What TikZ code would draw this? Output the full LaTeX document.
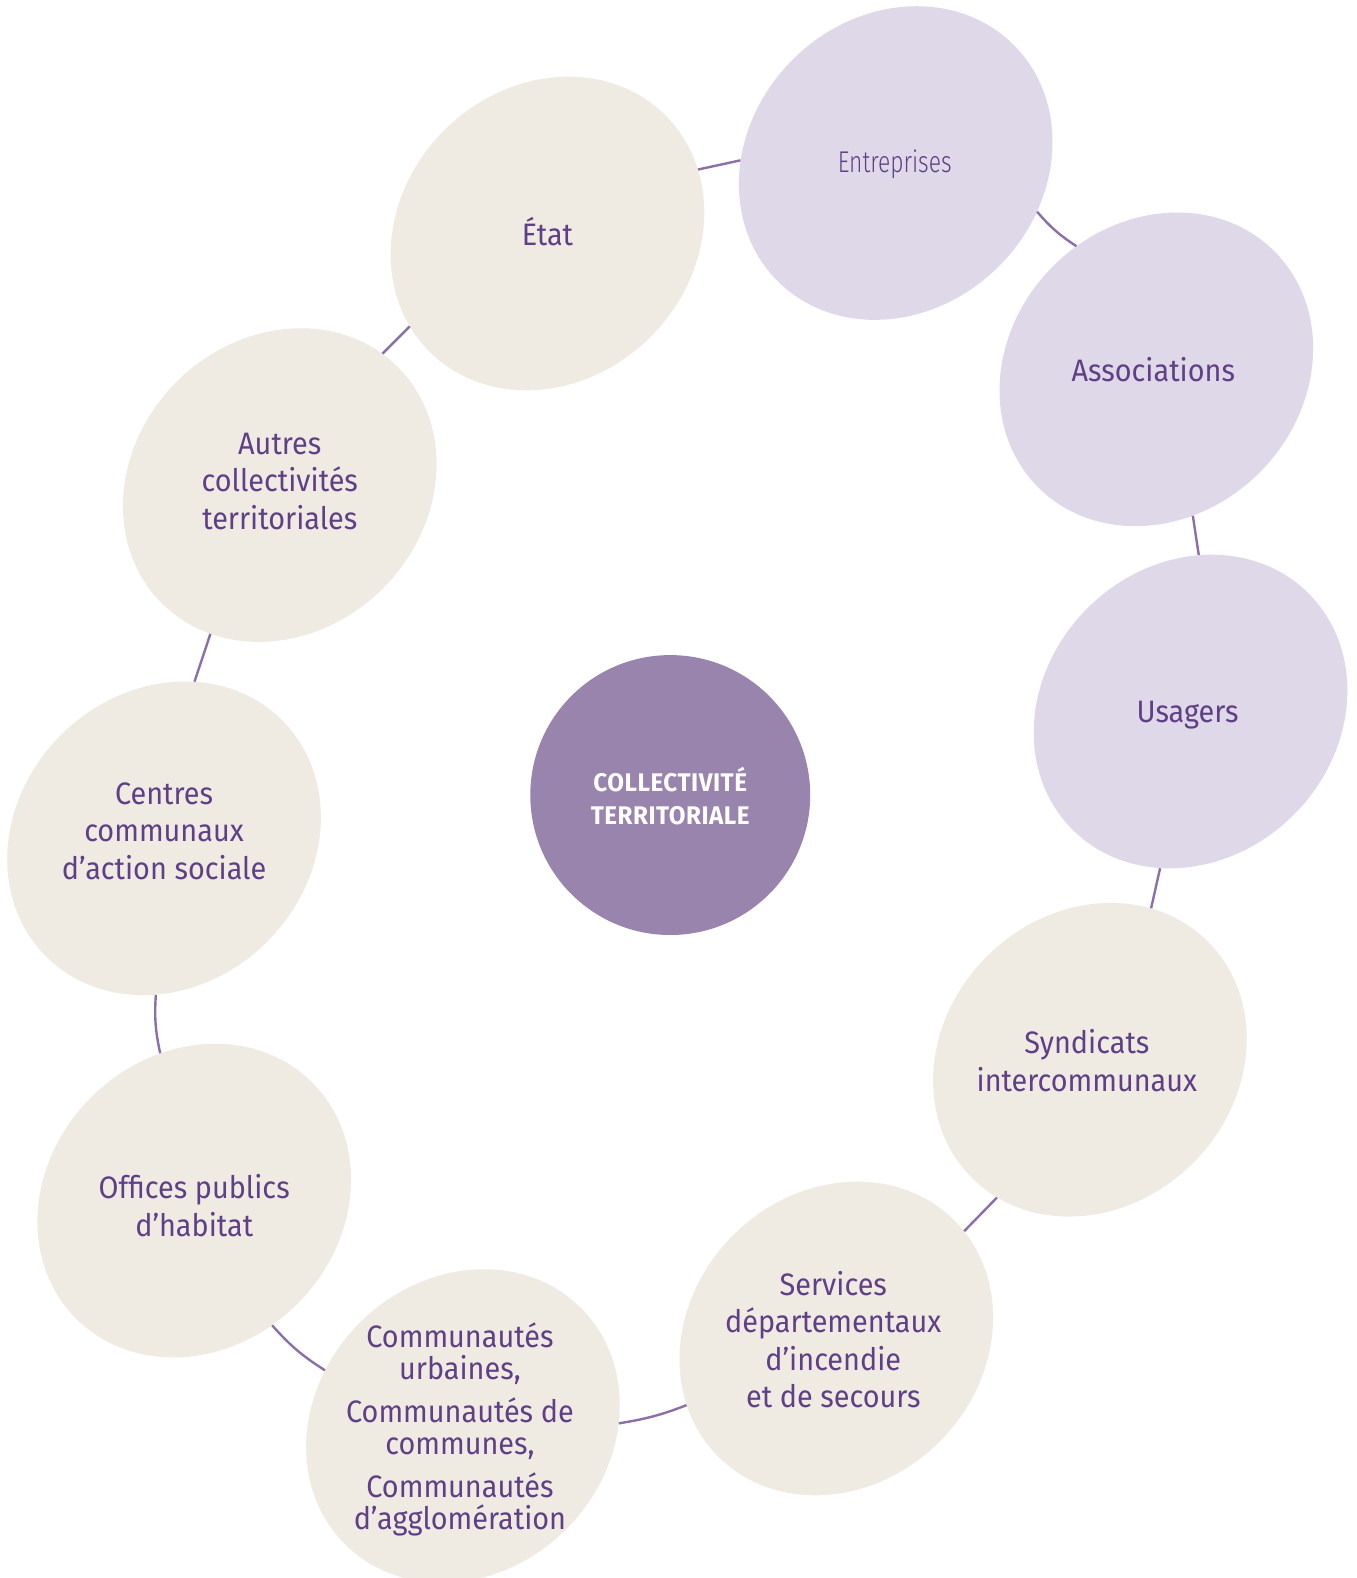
\documentclass[tikz,border=0pt]{standalone}
\usepackage{fontspec}
\setmainfont{Fira Sans}[FakeStretch=0.93]
\newfontfamily\lightfont{Fira Sans Light}[FakeStretch=0.76]
\newfontfamily\corefont{Fira Sans}[FakeStretch=0.95, LetterSpace=2]
\usetikzlibrary{shapes.geometric}
\definecolor{beige}{HTML}{EFEBE3}
\definecolor{lilac}{HTML}{DFD8E8}
\definecolor{core}{HTML}{9984AE}
\definecolor{ink}{HTML}{5F3F86}
\definecolor{wire}{HTML}{8A6FA8}
\begin{document}
\begin{tikzpicture}[x=1.0067pt,y=-1.0067pt,
  blob/.style={ellipse, rotate=45, minimum width=334pt, minimum height=292pt, inner sep=0pt, draw=none},
  warm/.style={blob, fill=beige},
  cool/.style={blob, fill=lilac},
  lbl/.style={text=ink, align=center, inner sep=0pt, font=\fontsize{31}{37.5}\selectfont},
  wireline/.style={draw=wire, line width=2.4pt}]
\fill[white] (0,0) rectangle (1348,1568);
\useasboundingbox (0,0) rectangle (1348,1568);
% blobs
\node[warm] (etat) at (544,232) {};
\node[cool] (entr) at (890,162) {};
\node[cool] (assoc) at (1149,367) {};
\node[cool] (usag) at (1183,707) {};
\node[warm] (synd) at (1083,1053) {};
\node[warm] (sdis) at (831,1330) {};
\node[warm] (comm) at (460,1417) {};
\node[warm] (oph) at (193,1193) {};
\node[warm] (ccas) at (163,833) {};
\node[warm] (autres) at (278,482) {};
\node[circle, fill=core, minimum size=280pt, inner sep=0pt] (core) at (666,790) {};
% connectors
\draw[wireline] (etat.-22.7) -- (entr.134.3);
\draw[wireline] (entr.-64.7) to[bend right=8] (assoc.78.4);
\draw[wireline] (assoc.-121.3) -- (usag.42.8);
\draw[wireline] (usag.-146.2) -- (synd.23.9);
\draw[wireline] (synd.-169.2) -- (sdis.-5.4);
\draw[wireline] (sdis.159.7) to[bend left=6] (comm.-44.3);
\draw[wireline] (comm.113.3) to[bend left=8] (oph.-103);
\draw[wireline] (oph.58.8) to[bend left=8] (ccas.-138.7);
\draw[wireline] (ccas.34) -- (autres.-160.3);
\draw[wireline] (autres.7.2) -- (etat.169);
% labels
\node[lbl] (tetat) at (544,230) {État};
\node[text=ink, inner sep=0pt, font=\lightfont\fontsize{30}{32}\selectfont] (tentr) at (889,163) {Entreprises};
\node[lbl] (tassoc) at (1146,367) {Associations};
\node[lbl] (tusag) at (1180,711) {Usagers};
\node[lbl] (tsynd) at (1080,1054) {Syndicats\\intercommunaux};
\node[lbl] (tsdis) at (828,1331) {Services\\départementaux\\d’incendie\\et de secours};
\node[lbl, font=\fontsize{31}{32}\selectfont] (tcomm) at (457,1420) {Communautés\\urbaines,\\[11pt]Communautés de\\communes,\\[11pt]Communautés\\d’agglomération};
\node[lbl] (toph) at (193,1198) {Offices publics\\d’habitat};
\node[lbl] (tccas) at (163,826) {Centres\\communaux\\d’action sociale};
\node[lbl] (tautres) at (278,478) {Autres\\collectivités\\territoriales};
\node[text=white, align=center, inner sep=0pt, font=\corefont\bfseries\fontsize{25.5}{33}\selectfont] (tcore) at (666,791) {COLLECTIVITÉ\\TERRITORIALE};
\end{tikzpicture}
\end{document}
